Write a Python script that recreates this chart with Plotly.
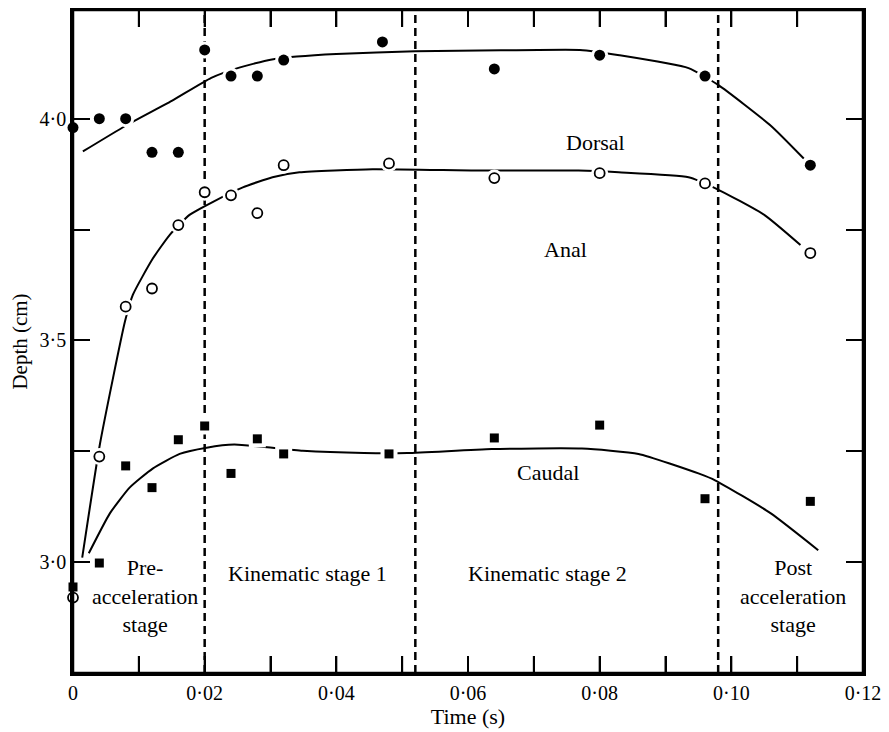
import plotly.graph_objects as go

# ---- data ----
t_pts = [0.0, 0.004, 0.008, 0.012, 0.016, 0.020, 0.024, 0.028, 0.032, 0.047, 0.064, 0.080, 0.096, 0.112]
dorsal_pts = [3.98, 4.00, 4.00, 3.924, 3.924, 4.155, 4.096, 4.096, 4.132, 4.173, 4.112, 4.143, 4.096, 3.895]

t_anal = [0.0, 0.004, 0.008, 0.012, 0.016, 0.020, 0.024, 0.028, 0.032, 0.048, 0.064, 0.080, 0.096, 0.112]
anal_pts = [2.92, 3.238, 3.576, 3.617, 3.76, 3.834, 3.827, 3.787, 3.895, 3.899, 3.866, 3.877, 3.854, 3.697]

t_caud = [0.0, 0.004, 0.008, 0.012, 0.016, 0.020, 0.024, 0.028, 0.032, 0.048, 0.064, 0.080, 0.096, 0.112]
caudal_pts = [2.944, 2.998, 3.217, 3.168, 3.276, 3.307, 3.20, 3.278, 3.244, 3.244, 3.28, 3.309, 3.143, 3.137]

# hand-fitted curves
t_dorsal_fit = [0.0015, 0.008, 0.015, 0.021, 0.025, 0.030, 0.034, 0.040, 0.052, 0.065, 0.077, 0.083, 0.0935, 0.098, 0.106, 0.111]
dorsal_fit = [3.926, 3.984, 4.04, 4.092, 4.114, 4.133, 4.140, 4.146, 4.152, 4.154, 4.155, 4.143, 4.114, 4.076, 3.984, 3.91]

t_anal_fit = [0.0014, 0.0041, 0.0079, 0.0091, 0.0121, 0.0147, 0.0177, 0.0212, 0.0258, 0.0303, 0.0344, 0.0455, 0.0617, 0.0768, 0.0829, 0.0935, 0.0976, 0.105, 0.1105]
anal_fit = [3.01, 3.267, 3.543, 3.603, 3.684, 3.738, 3.783, 3.812, 3.845, 3.868, 3.879, 3.886, 3.883, 3.883, 3.879, 3.868, 3.843, 3.783, 3.715]

t_caudal_fit = [0.0024, 0.0056, 0.0086, 0.0121, 0.0162, 0.0203, 0.0245, 0.0349, 0.0442, 0.0508, 0.0636, 0.0773, 0.0859, 0.095, 0.0976, 0.106, 0.1132]
caudal_fit = [3.02, 3.11, 3.168, 3.211, 3.244, 3.258, 3.265, 3.251, 3.246, 3.246, 3.255, 3.256, 3.244, 3.20, 3.184, 3.11, 3.027]

stage_bounds = [0.020, 0.052, 0.098]

x_tickvals = [0.0, 0.01, 0.02, 0.03, 0.04, 0.05, 0.06, 0.07, 0.08, 0.09, 0.10, 0.11, 0.12]
x_ticktext = ["0", "", "0·02", "", "0·04", "", "0·06", "", "0·08", "", "0·10", "", "0·12"]
y_tickvals = [2.75, 3.0, 3.25, 3.5, 3.75, 4.0, 4.25]
y_ticktext = ["", "3·0", "", "3·5", "", "4·0", ""]

series_labels = ["Dorsal", "Anal", "Caudal"]
series_label_pos = [(0.0794, 3.946), (0.0748, 3.704), (0.0721, 3.202)]
stage_labels = ["Pre-<br>acceleration<br>stage", "Kinematic stage 1", "Kinematic stage 2", "Post<br>acceleration<br>stage"]
stage_label_pos = [(0.0109, 2.924), (0.0356, 2.975), (0.0721, 2.975), (0.1094, 2.924)]

FONT = "Liberation Serif, Times New Roman, serif"
W, H = 881, 724
MARGIN = dict(l=65, r=26, t=2, b=59)
TICKLEN = 17
X_RANGE = [0, 0.12]
Y_RANGE = [2.75, 4.245]

fig = go.Figure()

line_style = dict(color="black", width=2)
for tx, yy in [(t_dorsal_fit, dorsal_fit), (t_anal_fit, anal_fit), (t_caudal_fit, caudal_fit)]:
    fig.add_trace(go.Scatter(x=tx, y=yy, mode="lines", line=dict(shape="spline", smoothing=0.5, **line_style),
                             hoverinfo="skip", showlegend=False, cliponaxis=False))

# white halos under markers (gaps in curves)
for tx, yy, sym in [(t_pts, dorsal_pts, "circle"), (t_anal, anal_pts, "circle"), (t_caud, caudal_pts, "square")]:
    fig.add_trace(go.Scatter(x=tx, y=yy, mode="markers",
                             marker=dict(symbol=sym, size=17, color="white", line=dict(width=0)),
                             hoverinfo="skip", showlegend=False, cliponaxis=False))

fig.add_trace(go.Scatter(x=t_pts, y=dorsal_pts, mode="markers", name="Dorsal",
                         marker=dict(symbol="circle", size=11, color="black", line=dict(width=0)),
                         showlegend=False, cliponaxis=False))
fig.add_trace(go.Scatter(x=t_anal, y=anal_pts, mode="markers", name="Anal",
                         marker=dict(symbol="circle-open", size=10, color="black", line=dict(width=1.8)),
                         showlegend=False, cliponaxis=False))
fig.add_trace(go.Scatter(x=t_caud, y=caudal_pts, mode="markers", name="Caudal",
                         marker=dict(symbol="square", size=9, color="black", line=dict(width=0)),
                         showlegend=False, cliponaxis=False))

# inward x ticks on bottom and top edges, derived from the tick values and axis range
plot_h = H - MARGIN["t"] - MARGIN["b"]
tick_dy = TICKLEN / plot_h * (Y_RANGE[1] - Y_RANGE[0])
tx_ticks, ty_ticks = [], []
for tv in x_tickvals[1:-1]:
    tx_ticks += [tv, tv, None, tv, tv, None]
    ty_ticks += [Y_RANGE[0], Y_RANGE[0] + tick_dy, None, Y_RANGE[1], Y_RANGE[1] - tick_dy, None]
fig.add_trace(go.Scatter(x=tx_ticks, y=ty_ticks, mode="lines", line=dict(color="black", width=2),
                         hoverinfo="skip", showlegend=False, cliponaxis=False, connectgaps=False))

for b in stage_bounds:
    fig.add_vline(x=b, line=dict(color="black", width=2.5, dash="8px,5px"), layer="below")

# plot frame
fig.add_shape(type="rect", xref="paper", yref="paper", x0=0, x1=1, y0=0, y1=1,
              line=dict(color="black", width=2.5), fillcolor="rgba(0,0,0,0)", layer="above")

for txt, (xx, yy) in zip(series_labels, series_label_pos):
    fig.add_annotation(x=xx, y=yy, text=txt, showarrow=False, font=dict(family=FONT, size=22, color="black"))
for txt, (xx, yy) in zip(stage_labels, stage_label_pos):
    fig.add_annotation(x=xx, y=yy, text=txt, showarrow=False, font=dict(family=FONT, size=22, color="black"),
                       align="center")

fig.update_xaxes(range=X_RANGE, tickvals=x_tickvals, ticktext=x_ticktext,
                 ticks="inside", ticklen=TICKLEN, tickwidth=2, tickcolor="black",
                 showline=True, linewidth=2.5, linecolor="black", mirror="ticks",
                 showgrid=False, zeroline=False, automargin=False,
                 tickfont=dict(family=FONT, size=20, color="black"),
                 title=dict(text="Time (s)", font=dict(family=FONT, size=22, color="black"), standoff=2))
fig.update_yaxes(range=Y_RANGE, tickvals=y_tickvals, ticktext=y_ticktext,
                 ticks="inside", ticklen=TICKLEN, tickwidth=2, tickcolor="black",
                 showline=True, linewidth=2.5, linecolor="black", mirror="ticks",
                 showgrid=False, zeroline=False, automargin=False,
                 tickfont=dict(family=FONT, size=20, color="black"),
                 title=dict(text="Depth (cm)", font=dict(family=FONT, size=21, color="black"), standoff=16))

fig.update_layout(width=W, height=H, margin=MARGIN,
                  plot_bgcolor="white", paper_bgcolor="white", showlegend=False)

fig.write_html("out.html")
